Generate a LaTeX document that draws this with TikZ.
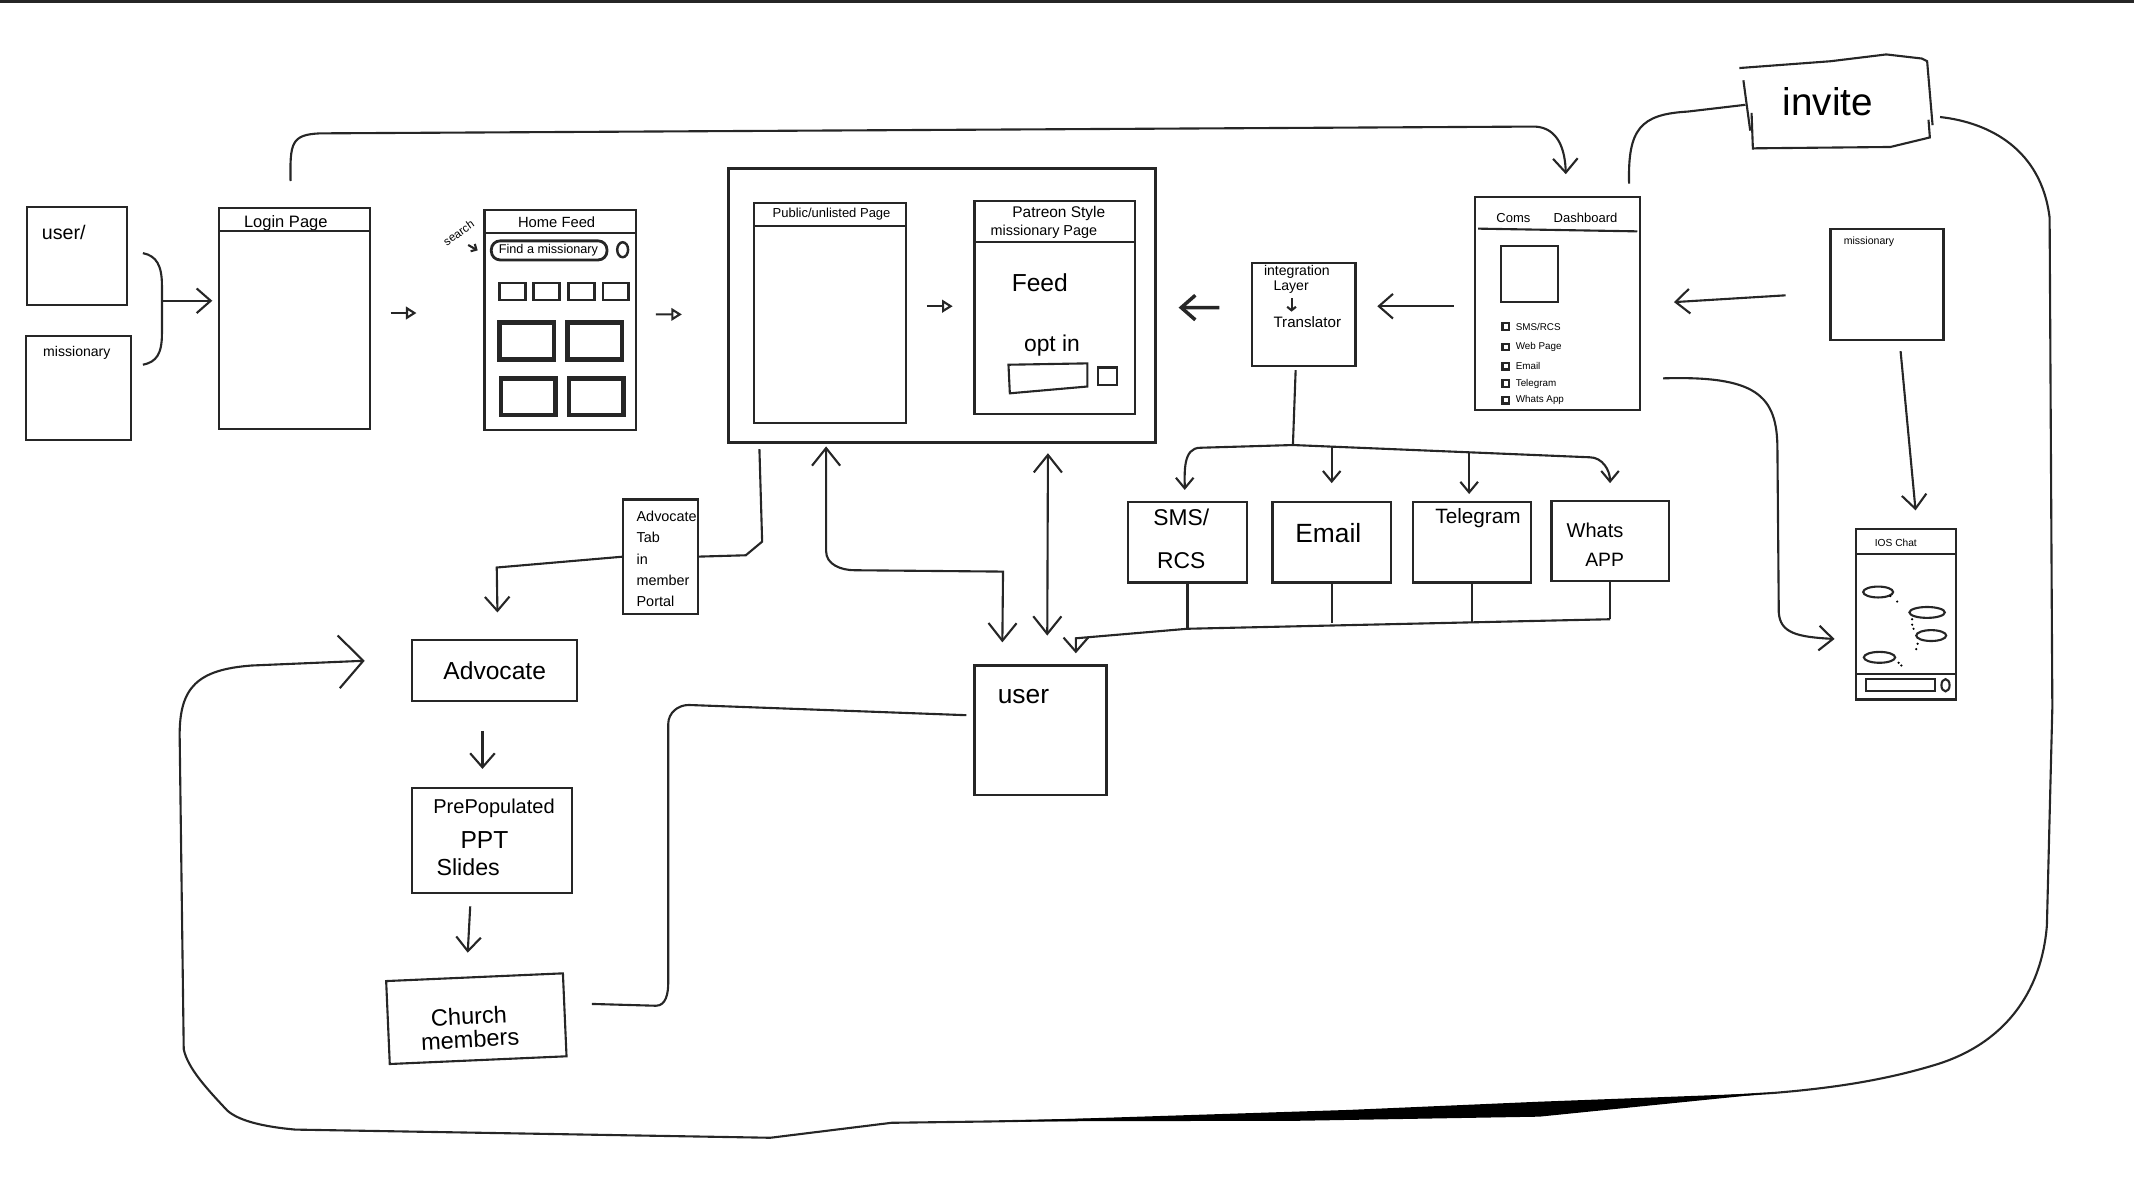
\documentclass[tikz,border=0pt]{standalone}
\usepackage{fontspec}
\setmainfont{Liberation Sans}
\usetikzlibrary{arrows.meta,calc}
\newlength\pxu
\setlength\pxu{0.1361mm}
\newcommand\fsz[2]{\fontsize{#1pt}{#2pt}\selectfont}
\tikzset{
  box/.style 2 args={draw, inner sep=0pt, outer sep=0pt, minimum width=#1*\pxu, minimum height=#2*\pxu},
  txt/.style={inner sep=0pt},
  barb/.style={-{Straight Barb[length=4pt,width=7pt]}},
  smallbarb/.style={-{Straight Barb[length=3pt,width=5pt]}},
  bigbarb/.style={-{Straight Barb[length=7pt,width=15pt]}},
  both/.style={{Straight Barb[length=5pt,width=8pt]}-{Straight Barb[length=5pt,width=8pt]}},
  tri/.style={-{Triangle[open,length=3pt,width=3.6pt]}}
}
\begin{document}
\begin{tikzpicture}[x=0.1361mm, y=-0.1361mm, line width=0.6pt, draw=black!85]
\useasboundingbox (0,0) rectangle (1568,866);
\draw[line width=0.35mm] (0,0.8) -- (1568,0.8);

\node[box={73}{72}] (usr) at (56.5,188) {};
\node[box={77}{76}] (mis) at (57.5,285) {};
\node[box={111}{162}] (login) at (216.5,234) {};
\node[box={111}{162}] (home) at (411.5,235) {};
\node[box={314}{201}, line width=0.9pt] (frame) at (692,224.5) {};
\node[box={112}{162}] (public) at (610,230) {};
\node[box={118}{156}] (patreon) at (775,226) {};
\node[box={76}{76}] (integ) at (958,231) {};
\node[box={121}{156}] (coms) at (1144.5,223) {};
\node[box={83}{82}] (mis2) at (1386.5,209) {};
\node[box={73}{125}] (ios) at (1400.5,451.5) {};
\node[box={139}{61}, draw=none] (invite) at (1352,77) {};
\node[box={87}{59}] (sms) at (872.5,398.5) {};
\node[box={87}{59}] (email) at (978.5,398.5) {};
\node[box={87}{59}] (tele) at (1081.5,398.5) {};
\node[box={86}{59}] (whats) at (1183,397.5) {};
\node[box={97}{95}] (usr2) at (764.5,536.5) {};
\node[box={55}{84}] (advtab) at (485.5,409) {};
\node[box={121}{45}, font=\fsz{7}{8}] (advocate) at (363.5,492.5) {Advocate};
\node[box={117}{77}] (ppt) at (361.5,617.5) {};
\node[box={130}{61}, rotate=2.5] (church) at (350,748.5) {};

\node[txt, font=\fsz{5.6}{6}, anchor=west] (tusr) at (30,171) {user/};
\node[txt, font=\fsz{4}{5}, anchor=west] (tmis) at (31,259) {missionary};
\node[txt, font=\fsz{4.7}{5}] (tlogin) at (210,164) {Login Page};
\node[txt, font=\fsz{4.2}{5}] (thome) at (409,163) {Home Feed};
\node[txt, font=\fsz{3.6}{4}] (tfind) at (403,184) {Find a missionary};
\node[txt, font=\fsz{3.3}{4}, rotate=35] (tsearch) at (337,171) {search};
\node[txt, font=\fsz{3.7}{4}] (tpub) at (611,157) {Public/unlisted Page};
\node[txt, font=\fsz{4.4}{5}] (tpat1) at (778,157) {Patreon Style};
\node[txt, font=\fsz{4.1}{5}] (tpat2) at (767,170) {missionary Page};
\node[txt, font=\fsz{7}{8}] (tfeed) at (764,208) {Feed};
\node[txt, font=\fsz{6.5}{7}] (toptin) at (773,254) {opt in};
\node[txt, font=\fsz{4}{4.5}, anchor=west] (tint1) at (928,200) {integration};
\node[txt, font=\fsz{4}{4.5}, anchor=west] (tint2) at (935,211) {Layer};
\node[txt, font=\fsz{4.3}{5}, anchor=west] (tint3) at (935,237) {Translator};
\node[txt, font=\fsz{3.7}{4}] (tcoms) at (1112,160) {Coms};
\node[txt, font=\fsz{3.7}{4}] (tdash) at (1165,160) {Dashboard};
\node[txt, font=\fsz{3}{4}, anchor=west] (tmis2) at (1354,178) {missionary};
\node[txt, font=\fsz{2.9}{3.5}] (tios) at (1393,399) {IOS Chat};
\node[txt, font=\fsz{11}{12}] (tinv) at (1343,75) {invite};
\node[txt, font=\fsz{6.5}{7}] (tsms1) at (868,380) {SMS/};
\node[txt, font=\fsz{6.5}{7}] (tsms2) at (868,412) {RCS};
\node[txt, font=\fsz{7.5}{8}] (temail) at (976,392) {Email};
\node[txt, font=\fsz{5.9}{7}] (ttele) at (1086,381) {Telegram};
\node[txt, font=\fsz{5.7}{7}] (twh1) at (1172,390) {Whats};
\node[txt, font=\fsz{5.5}{7}] (twh2) at (1179,411) {APP};
\node[txt, font=\fsz{7.5}{8}] (tusr2) at (752,512) {user};
\node[txt, font=\fsz{4.1}{6}, align=left, anchor=north west] (tadv) at (467,375) {Advocate\\Tab\\in\\member\\Portal};
\node[txt, font=\fsz{5.7}{6}] (tppt1) at (363,594) {PrePopulated};
\node[txt, font=\fsz{7}{8}] (tppt2) at (356,617) {PPT};
\node[txt, font=\fsz{6.6}{7}] (tppt3) at (344,637) {Slides};
\node[txt, font=\fsz{6.7}{6.6}, align=center, rotate=3] (tch) at (345,755) {Church\\members};

\draw (161,170) -- (272,170);
\draw (356,171) -- (467,171);
\draw[line width=0.8pt, rounded corners=2.5pt] (361,177) rectangle (446,191);
\draw[line width=0.7pt] (457.5,183.5) ellipse (4 and 5.5);
\draw[-{Straight Barb[length=1.2pt,width=2.4pt]}] (344,180) -- (351,184);
\foreach \x in {367,392,418,443} \draw[line width=0.8pt] (\x,208) rectangle ++(19,12.5);
\foreach \x/\y in {367/237,417/237,368/278,418/278} \draw[line width=1.3pt] (\x,\y) rectangle ++(40,27);
\draw (554,166) -- (666,166);
\draw (716,178) -- (834,178);
\draw (741,268) -- (799,267) -- (799,284) -- (742,289) -- cycle;
\draw (807,270) rectangle (821,283);
\draw[-{Straight Barb[length=1pt,width=2.5pt]}] (949,219) -- (949,229);
\draw (1086,168) -- (1203,170);
\draw (1103,181) rectangle (1145,222);
\foreach \y/\lbl in {240/{SMS/RCS},255/{Web Page},269/Email,282/Telegram,294/{Whats App}} {
  \draw (1104,\y-2.5) rectangle (1109,\y+2.5);
  \node[txt, font=\fsz{2.8}{3}, anchor=west] (cb\y) at (1113,\y) {\lbl};
}
\draw (1364,407) -- (1437,407);
\draw (1364,495) -- (1437,495);
\draw (1371,499) rectangle (1422,508);
\draw (1429.5,503.5) ellipse (3 and 4.5);
\foreach \x/\y/\rr in {1380/435/11,1416/450/13,1419/467/11,1381/483/11.5} \draw (\x,\y) ellipse ({\rr} and 4);
\foreach \x/\y in {1389/438,1394/442,1405/455,1405/459,1406/462,1409/473,1408/477,1395/487,1397/489} \fill (\x,\y) circle (0.9);
\draw (1278,50) -- (1345,45) -- (1386,40) -- (1412,43) -- (1416,45) -- (1420,92);
\draw (1417,88) -- (1418,101) -- (1389,108) -- (1288,109);
\draw (1281,59) -- (1286,96);
\draw (1287,83) -- (1288,110);

\coordinate (brc) at (119,221);
\draw (105,186) .. controls (115,188) and (119,195) .. (119,210) -- (119,245) .. controls (119,260) and (115,266) .. (105,268);
\draw[barb] (brc) -- ($(login.west |- brc)+(-5,0)$);
\draw[tri] ($(login.east)+(15,-4)$) -- ($(home.west)+(-50,-5)$);
\draw[tri] ($(home.east)+(15,-4)$) -- ($(frame.west)+(-34,6.5)$);
\draw[tri] ($(public.east)+(15,-5)$) -- ($(patreon.west)+(-16,-1)$);
\draw[barb] ($(login.north)+(-3,-20)$) .. controls (213,105) and (214,99) .. (235,98) -- (1128,93) .. controls (1145,94) and (1150,110) .. ($(coms.north)+(6,-17)$);
\draw[barb] ($(coms.west)+(-16,2)$) -- ($(integ.east)+(16,-6)$);
\draw[barb, line width=1pt] ($(integ.west)+(-24,-5)$) -- ($(frame.east)+(17,1.5)$);
\draw[barb] ($(mis2.west)+(-33,8)$) -- ($(coms.east)+(25,-1)$);
\draw[barb] ($(mis2.south)+(10,8)$) -- ($(ios.north)+(7,-14)$);
\draw[barb] ($(coms.east)+(17,55)$) .. controls (1290,276) and (1306,290) .. (1306,330) -- (1307,450) .. controls (1308,465) and (1320,468) .. ($(ios.west)+(-16,18)$);
\draw ($(coms.north east)+(-8,-10)$) .. controls (1196,95) and (1205,84) .. (1240,82) -- (invite.west);
\draw[bigbarb] ($(invite.east)+(4,9)$) .. controls (1462,90) and (1500,110) .. (1506,160) -- (1508,520) -- (1504,680) .. controls (1500,730) and (1472,768) .. (1420,783) .. controls (1380,795) and (1340,800) .. (1304,803) -- (1131,814) -- (992,819) -- (729,824) -- (655,825) -- (566,836) -- (217,830) .. controls (195,828) and (176,824) .. (167,816) .. controls (152,800) and (138,785) .. (135,771) -- (132,540) .. controls (132,505) and (145,492) .. (185,489) -- ($(advocate.west)+(-35,-7)$);
\fill (729,824) -- (992,815.5) -- (1131,809.5) -- (1304,803) -- (1131,820.5) -- (955,823.5) -- cycle;

\coordinate (hub) at (950,327);
\draw ($(integ.south)+(-6,3)$) -- (hub);
\draw[smallbarb] (hub) -- (882,329) to[out=180,in=90] ($(sms.north)+(-2,-9)$);
\draw[smallbarb] (hub) -- (1168,336) to[out=0,in=90] ($(whats.north)+(0,-13)$);
\draw[smallbarb] ($(hub -| email.north)+(0,1)$) -- ($(email.north)+(0,-14)$);
\draw[smallbarb] ($(hub -| tele.north)+(-2,5)$) -- ($(tele.north)+(-2,-6)$);
\draw (sms.south) -- ++(0,34);
\draw (email.south) -- ++(0,30);
\draw (tele.south) -- ++(0,30);
\draw (whats.south) -- ++(0,28);
\draw[barb] ($(whats.south)+(0,28)$) -- ($(sms.south)+(0,34)$) -- ($(usr2.north)+(26,-20)$) -- ($(usr2.north)+(26,-9)$);

\draw[both] ($(frame.south)+(-85,3)$) -- (607,405) to[out=-90,in=180] (628,419) -- (737,420) -- ($(usr2.north)+(-28,-17)$);
\draw[both] ($(frame.south)+(78,8)$) -- ($(usr2.north)+(5,-22)$);
\draw ($(frame.south west)+(23,5)$) -- (560,398) -- (548,408) -- (advtab.east);
\draw[barb] (advtab.west) -- (365,417) -- ($(advocate.north)+(2,-20)$);
\draw[barb] ($(advocate.south)+(-9,22)$) -- ($(ppt.north)+(-7,-14)$);
\draw[barb] ($(ppt.south)+(-16,10)$) -- ($(church.north)+(-5,-18)$);
\draw ($(church.east)+(20,-8)$) -- (482,739) to[out=0,in=-90] (491,722) -- (491,532) to[out=90,in=180] (506,518) -- ($(usr2.west)+(-6,-11)$);
\end{tikzpicture}
\end{document}
